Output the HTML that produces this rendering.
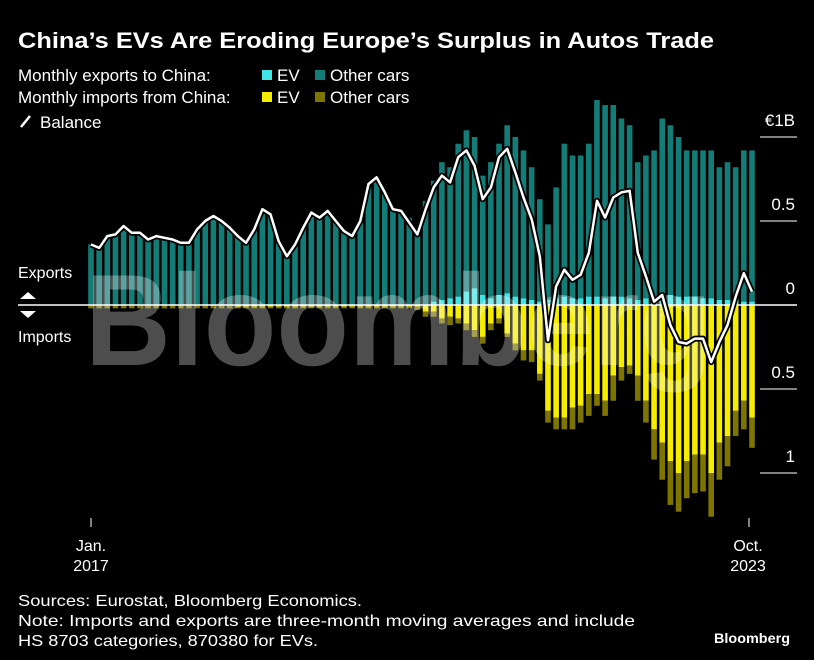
<!DOCTYPE html>
<html><head><meta charset="utf-8"><style>
html,body{margin:0;padding:0;background:#000;}
svg{display:block;font-family:"Liberation Sans",sans-serif;}
</style></head><body>
<svg id="chart" width="814" height="660" viewBox="0 0 814 660" xmlns="http://www.w3.org/2000/svg">
<rect width="814" height="660" fill="#000"/>
<text x="18" y="48" fill="#fff" font-size="22" font-weight="bold" textLength="696" lengthAdjust="spacingAndGlyphs">China’s EVs Are Eroding Europe’s Surplus in Autos Trade</text>
<g fill="#fff" font-size="17">
<text x="18" y="81">Monthly exports to China:</text>
<text x="18" y="103">Monthly imports from China:</text>
<rect x="262" y="70" width="10" height="10" fill="#3ee6e6"/>
<text x="277" y="81">EV</text>
<rect x="315" y="70" width="10" height="10" fill="#137c77"/>
<text x="330" y="81">Other cars</text>
<rect x="262" y="92" width="10" height="10" fill="#f5ec00"/>
<text x="277" y="103">EV</text>
<rect x="315" y="92" width="10" height="10" fill="#7d7500"/>
<text x="330" y="103">Other cars</text>
<line x1="21" y1="127" x2="30" y2="116" stroke="#fff" stroke-width="2.5"/>
<text x="40" y="128">Balance</text>
</g>
<g id="axis" fill="#fff" font-size="17"></g>
<g id="bars"></g>
<text x="85" y="365" fill="#fff" fill-opacity="0.3" font-size="130" font-weight="bold" textLength="627" lengthAdjust="spacingAndGlyphs">Bloomberg</text>
<line x1="18" y1="305" x2="797" y2="305" stroke="#fff" stroke-width="1.5"/>
<g id="line"></g>
<g fill="#fff" font-size="16">
<text x="18" y="278">Exports</text>
<polygon points="20,299 28,292 36,299"/>
<polygon points="20,311 28,318 36,311"/>
<text x="18" y="342">Imports</text>
</g>
<g fill="#fff" font-size="16" text-anchor="middle">
<line x1="91" y1="518" x2="91" y2="527" stroke="#fff" stroke-width="1"/>
<text x="91" y="551">Jan.</text>
<text x="91" y="571">2017</text>
<line x1="749" y1="518" x2="749" y2="527" stroke="#fff" stroke-width="1"/>
<text x="748" y="551">Oct.</text>
<text x="748" y="571">2023</text>
</g>
<g fill="#fff" font-size="16">
<text x="18" y="606" textLength="344" lengthAdjust="spacingAndGlyphs">Sources: Eurostat, Bloomberg Economics.</text>
<text x="18" y="626" textLength="617" lengthAdjust="spacingAndGlyphs">Note: Imports and exports are three-month moving averages and include</text>
<text x="18" y="646" textLength="300" lengthAdjust="spacingAndGlyphs">HS 8703 categories, 870380 for EVs.</text>
</g>
<text x="790" y="643" fill="#fff" font-size="14" font-weight="bold" text-anchor="end" textLength="76" lengthAdjust="spacingAndGlyphs">Bloomberg</text>
</svg>
<script>
const exportTotal = [0.36,0.34,0.40,0.43,0.46,0.43,0.43,0.40,0.41,0.41,0.39,0.38,0.37,0.45,0.49,0.52,0.50,0.45,0.42,0.39,0.44,0.55,0.54,0.37,0.30,0.37,0.46,0.54,0.53,0.55,0.49,0.43,0.41,0.50,0.70,0.75,0.67,0.57,0.57,0.52,
0.45,0.62,0.74,0.85,0.82,0.96,1.04,1.00,0.77,0.85,0.96,1.07,1.00,0.92,0.82,0.63,0.48,0.70,0.96,0.89,0.89,0.96,1.22,1.19,1.19,1.11,1.07,0.85,0.89,0.92,1.11,1.07,1.00,0.92,0.92,0.92,0.92,0.82,0.85,0.82,0.92,0.92];
const exportEV = [0,0,0,0,0,0,0,0,0,0,0,0,0,0,0,0,0,0,0,0,0,0,0,0,0,0,0,0,0,0,0,0,0,0,0,0,0,0,0,0,0,0,
0.02,0.03,0.04,0.05,0.08,0.10,0.06,0.04,0.06,0.07,0.05,0.04,0.03,0.02,0.03,0.04,0.05,0.04,0.04,0.05,0.05,0.04,0.05,0.05,0.04,0.03,0.04,0.05,0.06,0.06,0.05,0.05,0.05,0.04,0.04,0.03,0.03,0.03,0.02,0.02];
const importTotal = [0.02,0.02,0.02,0.02,0.02,0.02,0.02,0.02,0.02,0.02,0.02,0.02,0.02,0.02,0.02,0.02,0.02,0.02,0.02,0.02,0.02,0.02,0.02,0.02,0.02,0.02,0.02,0.02,0.02,0.02,0.02,0.02,0.02,0.02,0.02,0.02,0.02,0.02,0.02,0.02,
0.03,0.07,0.07,0.11,0.12,0.11,0.15,0.19,0.23,0.15,0.11,0.19,0.27,0.33,0.34,0.45,0.70,0.74,0.74,0.74,0.70,0.66,0.60,0.66,0.57,0.45,0.41,0.57,0.70,0.92,1.04,1.19,1.23,1.15,1.12,1.11,1.26,1.04,0.96,0.78,0.74,0.85];
const importEV = [0,0,0,0,0,0,0,0,0,0,0,0,0,0,0,0,0,0,0.01,0.01,0.01,0.01,0.01,0.01,0.01,0.01,0.01,0.01,0.01,0.01,0.01,0.01,0.01,0.01,0.01,0.01,0.01,0.01,0.01,0.01,
0.01,0.04,0.04,0.08,0.07,0.08,0.11,0.15,0.19,0.11,0.08,0.17,0.23,0.27,0.27,0.41,0.63,0.67,0.67,0.61,0.60,0.53,0.53,0.57,0.42,0.37,0.36,0.42,0.57,0.74,0.82,0.93,1.00,0.93,0.89,0.89,1.00,0.82,0.78,0.63,0.57,0.67];
const balance = [0.36,0.34,0.41,0.42,0.47,0.43,0.43,0.39,0.41,0.40,0.39,0.37,0.37,0.45,0.50,0.53,0.50,0.46,0.41,0.37,0.45,0.57,0.54,0.38,0.29,0.36,0.46,0.55,0.52,0.56,0.50,0.44,0.41,0.50,0.72,0.76,0.67,0.57,0.56,0.49,
0.42,0.57,0.70,0.77,0.73,0.88,0.92,0.83,0.63,0.70,0.88,0.93,0.79,0.64,0.51,0.29,-0.21,0.11,0.21,0.15,0.18,0.31,0.62,0.52,0.64,0.67,0.68,0.31,0.17,0.02,0.06,-0.12,-0.22,-0.23,-0.20,-0.20,-0.34,-0.22,-0.12,0.05,0.19,0.08];
const tickValues = [1, 0.5, 0, -0.5, -1];
const tickLabels = ["€1B", "0.5", "0", "0.5", "1"];

const NS = "http://www.w3.org/2000/svg";
const X0 = 91, X1 = 752, Y0 = 305, PX = 168;
function xPos(i){ return X0 + i * (X1 - X0) / (exportTotal.length - 1); }
function yPos(v){ return Y0 - v * PX; }
const barW = 5.6;
const bars = document.getElementById('bars');
function rect(x, y1, y2, fill, name){
  const r = document.createElementNS(NS, 'rect');
  r.setAttribute('x', x - barW/2);
  r.setAttribute('y', Math.min(y1, y2));
  r.setAttribute('width', barW);
  r.setAttribute('height', Math.abs(y2 - y1));
  r.setAttribute('fill', fill);
  
  
  bars.appendChild(r);
}
for (let i = 0; i < exportTotal.length; i++) {
  const x = xPos(i);
  rect(x, yPos(exportEV[i]), yPos(exportTotal[i]), '#137c77', 'export-other-bar');
  if (exportEV[i] > 0) rect(x, yPos(0), yPos(exportEV[i]), '#3ee6e6', 'export-ev-bar');
  if (importEV[i] > 0) rect(x, yPos(0), yPos(-importEV[i]), '#f5ec00', 'import-ev-bar');
  rect(x, yPos(-importEV[i]), yPos(-importTotal[i]), '#7d7500', 'import-other-bar');
}
const axis = document.getElementById('axis');
tickValues.forEach((v, k) => {
  const y = yPos(v);
  if (v !== 0) {
    const l = document.createElementNS(NS, 'line');
    l.setAttribute('x1', 760); l.setAttribute('x2', 797);
    l.setAttribute('y1', y); l.setAttribute('y2', y);
    l.setAttribute('stroke', '#fff'); l.setAttribute('stroke-width', '1');
    
    
    axis.appendChild(l);
  }
  const t = document.createElementNS(NS, 'text');
  t.setAttribute('x', 795); t.setAttribute('y', y - 11);
  t.setAttribute('text-anchor', 'end');
  t.textContent = tickLabels[k];
  
  
  axis.appendChild(t);
});
const lineG = document.getElementById('line');
const pts = balance.map((v, i) => xPos(i).toFixed(1) + ',' + yPos(v).toFixed(1)).join(' ');
const outline = document.createElementNS(NS, 'polyline');
outline.setAttribute('points', pts);
outline.setAttribute('fill', 'none');
outline.setAttribute('stroke', '#000');
outline.setAttribute('stroke-width', '6');
outline.setAttribute('stroke-linejoin', 'round');


lineG.appendChild(outline);
const pl = document.createElementNS(NS, 'polyline');
pl.setAttribute('points', pts);
pl.setAttribute('fill', 'none');
pl.setAttribute('stroke', '#fff');
pl.setAttribute('stroke-width', '2.5');
pl.setAttribute('stroke-linejoin', 'round');


lineG.appendChild(pl);
</script>
</body></html>
